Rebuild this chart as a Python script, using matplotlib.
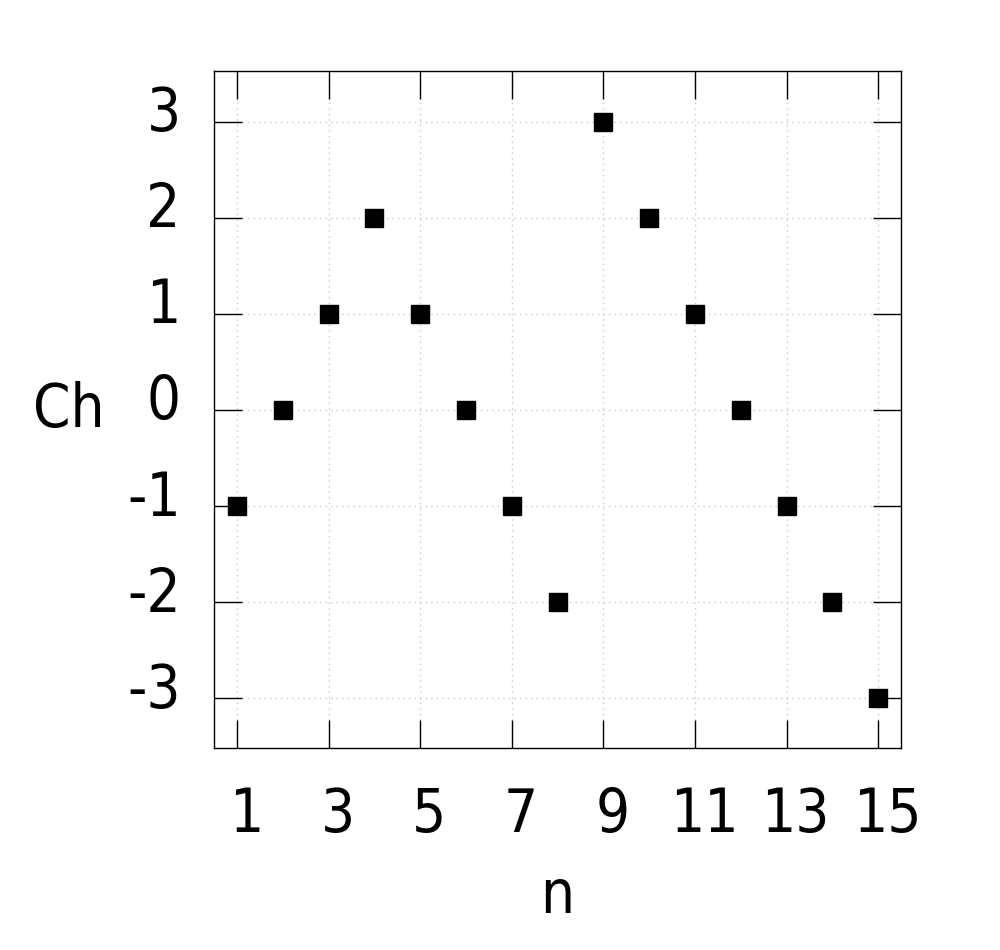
import matplotlib
matplotlib.use("Agg")
import matplotlib.pyplot as plt
from matplotlib import font_manager as fm
from matplotlib.transforms import ScaledTranslation

n_values = list(range(1, 16))
ch_values = [-1, 0, 1, 2, 1, 0, -1, -2, 3, 2, 1, 0, -1, -2, -3]
x_ticks = [1, 3, 5, 7, 9, 11, 13, 15]
y_ticks = [-3, -2, -1, 0, 1, 2, 3]

plt.rcParams['font.family'] = ['DejaVu Sans']
FS = 43
fp = fm.FontProperties(family='DejaVu Sans', stretch='condensed', size=FS)

fig = plt.figure(figsize=(10, 9.5), dpi=100)
ax = fig.add_axes([0.214, 0.2126, 0.687, 0.7127])

ax.plot(n_values, ch_values, linestyle='none', marker='s', markersize=13.5,
        color='black', zorder=3)

ax.set_xlim(0.5, 15.5)
ax.set_ylim(-3.52, 3.53)
ax.set_xticks(x_ticks)
ax.set_yticks(y_ticks)
ax.set_xticklabels([str(v) for v in x_ticks], fontproperties=fp)
ax.set_yticklabels([str(v) for v in y_ticks], fontproperties=fp, va='center')
ax.grid(True, linestyle=(0, (1, 3)), color='#c8c8c8', linewidth=1.0, zorder=0)
ax.set_axisbelow(True)

ax.tick_params(axis='both', which='major', direction='in', length=20,
               width=1.0, top=True, right=True)
ax.tick_params(axis='x', pad=27)
ax.tick_params(axis='y', pad=24)
for s in ax.spines.values():
    s.set_linewidth(1.0)

dx = ScaledTranslation(9 / 100, 0, fig.dpi_scale_trans)
dy = ScaledTranslation(0, 7 / 100, fig.dpi_scale_trans)
for lab in ax.get_xticklabels():
    lab.set_transform(lab.get_transform() + dx)
for lab in ax.get_yticklabels():
    lab.set_transform(lab.get_transform() + dy)

ax.set_xlabel('n', fontproperties=fp, va='baseline', ha='center')
ax.xaxis.set_label_coords(0.499, -0.2437)
ax.set_ylabel('Ch', fontproperties=fp, rotation=0, va='baseline', ha='left')
ax.yaxis.set_label_coords(-0.2635, 0.474)

fig.savefig('out.png', dpi=100)
